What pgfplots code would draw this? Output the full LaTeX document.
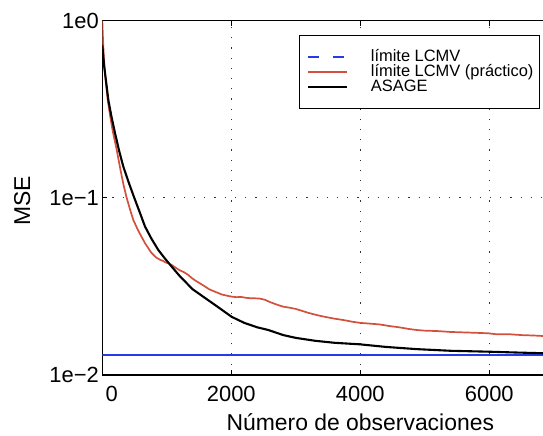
\documentclass[border=0pt]{standalone}
\usepackage{pgfplots}
\pgfplotsset{compat=1.18}
\usepackage{fontspec}
\setmainfont{Liberation Sans}
\definecolor{redc}{RGB}{210,80,60}
\definecolor{bluec}{RGB}{40,60,230}
\pgfplotstableread{
x y
0 1.0
10 0.8
25 0.6
53 0.454
83 0.36
119 0.294
160 0.24
223 0.187
280 0.145
330 0.118
378 0.1
430 0.086
481 0.075
560 0.065
662 0.0555
760 0.049
830 0.0462
895 0.0447
940 0.0441
980 0.0432
1030 0.0426
1076 0.0418
1130 0.0405
1200 0.0390
1270 0.0380
1333 0.0367
1390 0.0352
1450 0.0340
1520 0.0328
1592 0.0316
1650 0.0306
1700 0.0300
1780 0.0292
1850 0.0285
1920 0.0281
2006 0.0277
2080 0.0275
2150 0.0276
2220 0.0273
2300 0.0271
2367 0.0271
2440 0.0270
2520 0.0266
2600 0.0258
2700 0.0250
2806 0.0243
2900 0.0240
3000 0.0236
3100 0.0230
3200 0.0224
3324 0.0218
3450 0.0213
3600 0.0208
3750 0.0204
3870 0.0200
3995 0.0197
4150 0.0195
4300 0.0193
4450 0.0189
4600 0.0186
4750 0.0182
4874 0.01795
5000 0.0178
5200 0.0177
5400 0.0175
5600 0.0174
5800 0.0173
5984 0.0172
6100 0.0170
6300 0.0170
6500 0.0168
6700 0.0167
6833 0.0166
7000 0.0165
7200 0.0164
8000 0.0160
}\redtab
\pgfplotstableread{
x y
0 0.73
30 0.55
60 0.45
93 0.358
140 0.29
197 0.232
260 0.185
326 0.150
410 0.122
496 0.1
580 0.083
662 0.0689
760 0.059
868 0.0508
970 0.0455
1076 0.0409
1200 0.0362
1400 0.0305
1600 0.0271
1800 0.0241
2006 0.0213
2200 0.0197
2400 0.0186
2574 0.01795
2806 0.0168
3000 0.0162
3300 0.0156
3600 0.0152
3995 0.0149
4400 0.0144
4874 0.0140
5400 0.0137
5984 0.01354
6400 0.0134
6833 0.01327
7500 0.0131
8000 0.0130
}\blacktab
\pgfplotstableread{
x y
0 0.0129
2000 0.0129
4000 0.0129
6000 0.0129
8000 0.0129
}\bluetab
\begin{document}
\begin{tikzpicture}
\begin{axis}[
  at={(0,0)}, anchor=south west,
  scale only axis, width=516bp, height=354.3bp,
  xmin=0, xmax=8000, ymode=log, ymin=0.01, ymax=1,
  xtick={0,2000,4000,6000,8000},
  xticklabels={\hspace*{19bp}0,2000,4000,6000,{}},
  ytick={0.01,0.1,1},
  yticklabels={1e−2,1e−1,1e0},
  yminorticks=false,
  tick align=inside,
  major tick length=5bp,
  tick style={black, line width=0.8bp},
  axis line style={line width=1.1bp},
  grid=major,
  major grid style={black!80, line width=0.8bp, dash pattern=on 1.2bp off 9bp},
  ticklabel style={font=\fontsize{22}{26}\selectfont},
  xticklabel style={yshift=-8bp},
  xlabel={Número de observaciones},
  xlabel style={font=\fontsize{23}{27}\selectfont, yshift=-5bp},
  ylabel={MSE},
  every axis y label/.style={at={(axis description cs:-0.155,0.491)}, rotate=90, anchor=center, font=\fontsize{23}{27}\selectfont},
  legend style={at={(rel axis cs:0.3818,0.9597)}, anchor=north west,
    font=\fontsize{16.5}{18}\selectfont, draw=black, line width=1bp,
    inner xsep=0bp, inner ysep=14.2bp, row sep=0bp, cells={anchor=west},
    nodes={inner sep=0bp, text height=11.5bp, text depth=3.5bp}},
  legend image code/.code={\path (-7.4bp,0bp) (61.6bp,0bp); \draw[#1] (0bp,0bp) -- (38.3bp,0bp);},
]
\addplot[draw=bluec, line width=2bp, forget plot] table[x=x,y=y] {\bluetab};
\addlegendimage{draw=bluec, line width=1.8bp, dash pattern=on 11bp off 14bp}
\addlegendentry{límite LCMV}
\addplot[draw=redc, line width=1.7bp] table[x=x,y=y] {\redtab};
\addlegendentry{\makebox[169bp][l]{límite LCMV (práctico)}}
\addplot[draw=black, line width=2.1bp] table[x=x,y=y] {\blacktab};
\addlegendentry{ASAGE}
\end{axis}
\pgfresetboundingbox
\path[use as bounding box] (-102.3bp,-61bp) rectangle (440.7bp,375bp);
\end{tikzpicture}
\end{document}
